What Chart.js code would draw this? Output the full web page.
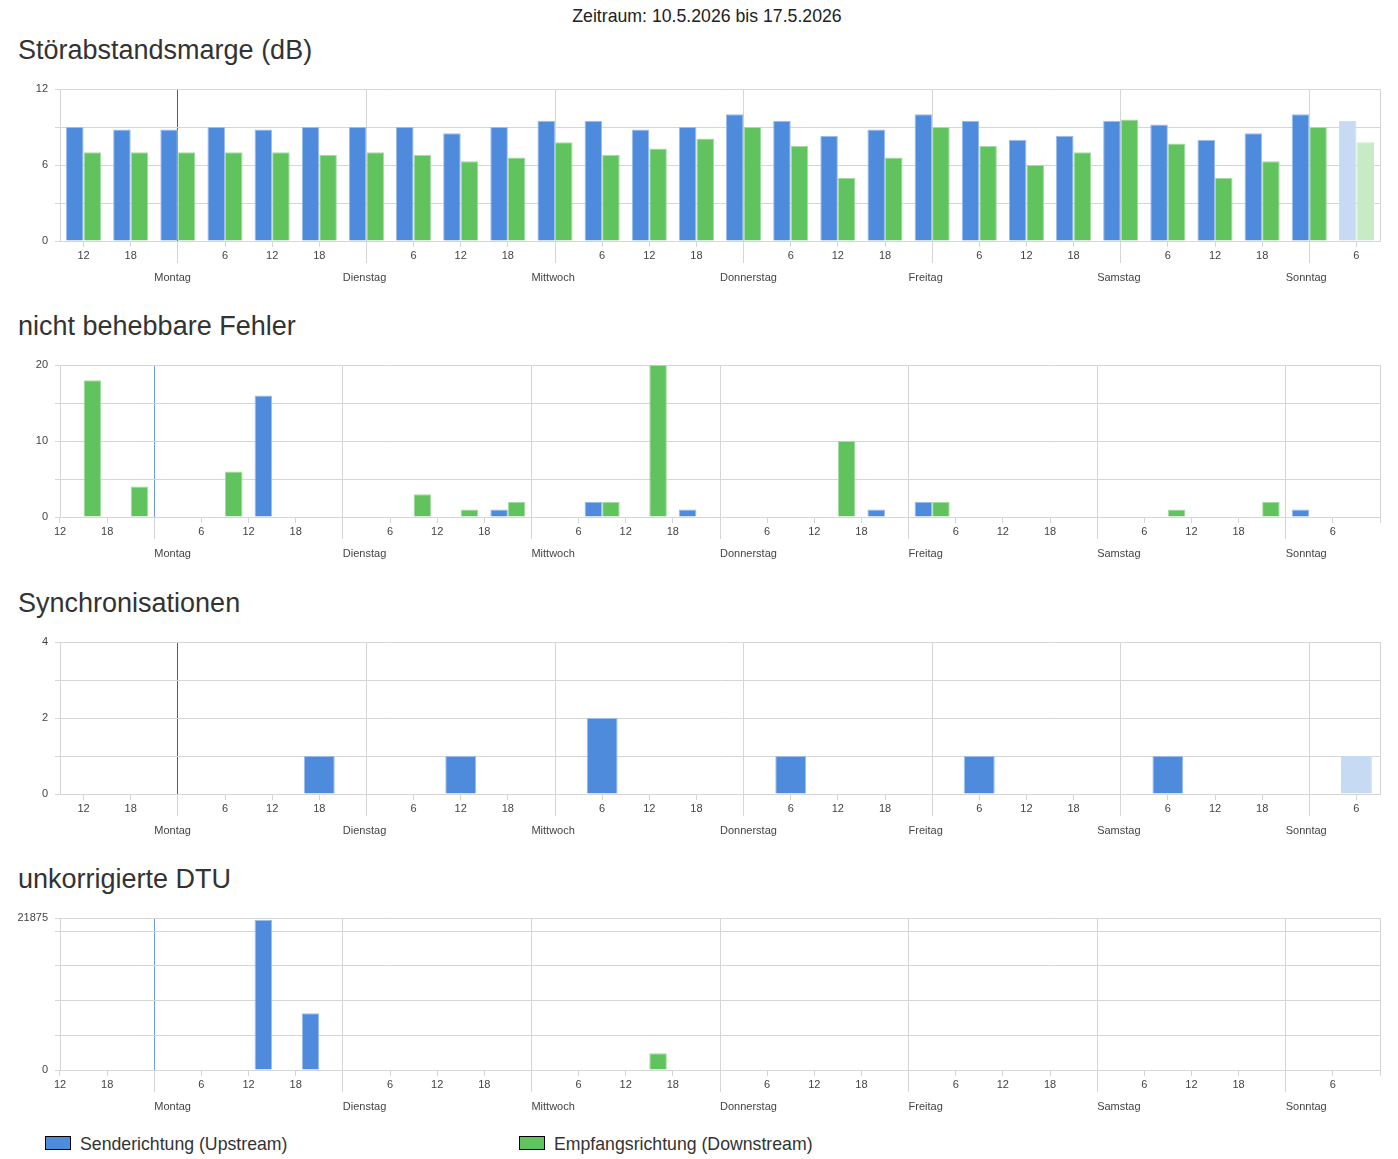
<!DOCTYPE html>
<html>
<head>
<meta charset="utf-8">
<title>DSL-Statistik</title>
<script src="https://cdn.jsdelivr.net/npm/chart.js@4.4.1/dist/chart.umd.min.js"></script>
<style>
  body { margin: 0; background: #fff; font-family: "Liberation Sans", Arial, sans-serif; color: #333; }
  #page { position: relative; width: 1398px; height: 1159px; overflow: hidden; }
  .title { position: absolute; left: 0; top: 6px; width: 1414px; text-align: center; font-size: 17.7px; line-height: 21px; color: #222; }
  h2 { position: absolute; left: 18px; margin: 0; font-size: 27px; line-height: 30px; font-weight: normal; color: #333; }
  canvas { position: absolute; left: 0; }
  .box { position: absolute; top: 1136px; width: 24px; height: 12px; border: 1px solid #000; }
  .ltext { position: absolute; top: 1134px; font-size: 17.7px; line-height: 21px; color: #333; }
</style>
</head>
<body>
<div id="page">
  <div class="title">Zeitraum: 10.5.2026 bis 17.5.2026</div>

  <h2 style="top:35px">Störabstandsmarge (dB)</h2>
  <canvas id="snr" width="1398" height="210" style="top:79px"></canvas>

  <h2 style="top:311px">nicht behebbare Fehler</h2>
  <canvas id="fec" width="1398" height="210" style="top:355px"></canvas>

  <h2 style="top:588px">Synchronisationen</h2>
  <canvas id="sync" width="1398" height="210" style="top:632px"></canvas>

  <h2 style="top:864px">unkorrigierte DTU</h2>
  <canvas id="dtu" width="1398" height="210" style="top:908px"></canvas>

  <div class="box" style="left:45px;background:#4e8bdc"></div>
  <div class="ltext" style="left:80px">Senderichtung (Upstream)</div>
  <div class="box" style="left:519px;background:#61c35e"></div>
  <div class="ltext" style="left:554px">Empfangsrichtung (Downstream)</div>
</div>

<script>
// one slot = 6 hours, 28 slots = one week
const hourLabels = ['12', '18', '', '6', '12', '18', '', '6', '12', '18', '', '6', '12', '18',
                    '', '6', '12', '18', '', '6', '12', '18', '', '6', '12', '18', '', '6'];
const dayLabels = ['', '', 'Montag', '', '', '', 'Dienstag', '', '', '', 'Mittwoch', '', '', '',
                   'Donnerstag', '', '', '', 'Freitag', '', '', '', 'Samstag', '', '', '', 'Sonntag', ''];

// Störabstandsmarge (dB)
const snrUp   = [9.0, 8.8, 8.8, 9.0, 8.8, 9.0, 9.0, 9.0, 8.5, 9.0, 9.5, 9.5, 8.8, 9.0,
                 10.0, 9.5, 8.3, 8.8, 10.0, 9.5, 8.0, 8.3, 9.5, 9.2, 8.0, 8.5, 10.0, 9.5];
const snrDown = [7.0, 7.0, 7.0, 7.0, 7.0, 6.8, 7.0, 6.8, 6.3, 6.6, 7.8, 6.8, 7.3, 8.1,
                 9.0, 7.5, 5.0, 6.6, 9.0, 7.5, 6.0, 7.0, 9.6, 7.7, 5.0, 6.3, 9.0, 7.8];
const snrTicks = [0, 3, 6, 9, 12];
const snrTickLabels = [0, 6, 12];

// nicht behebbare Fehler
const fecUp   = [0, 0, 0, 0, 16, 0, 0, 0, 0, 1, 0, 2, 0, 1,
                 0, 0, 0, 1, 2, 0, 0, 0, 0, 0, 0, 0, 1, 0];
const fecDown = [18, 4, 0, 6, 0, 0, 0, 3, 1, 2, 0, 2, 20, 0,
                 0, 0, 10, 0, 2, 0, 0, 0, 0, 1, 0, 2, 0, 0];
const fecTicks = [0, 5, 10, 15, 20];
const fecTickLabels = [0, 10, 20];

// Synchronisationen
const syncUp = [0, 0, 0, 0, 0, 1, 0, 0, 1, 0, 0, 2, 0, 0,
                0, 1, 0, 0, 0, 1, 0, 0, 0, 1, 0, 0, 0, 1];
const syncTicks = [0, 1, 2, 3, 4];
const syncTickLabels = [0, 2, 4];

// unkorrigierte DTU
const dtuUp   = [0, 0, 0, 0, 21590, 8150, 0, 0, 0, 0, 0, 0, 0, 0,
                 0, 0, 0, 0, 0, 0, 0, 0, 0, 0, 0, 0, 0, 0];
const dtuDown = [0, 0, 0, 0, 0, 0, 0, 0, 0, 0, 0, 0, 2400, 0,
                 0, 0, 0, 0, 0, 0, 0, 0, 0, 0, 0, 0, 0, 0];
const dtuTicks = [0, 5000, 10000, 15000, 20000, 21875];
const dtuTickLabels = [0, 21875];

const BLUE = '#4e8bdc', BLUE_EDGE = '#9cbdec', BLUE_FADED = '#c6daf3';
const GREEN = '#61c35e', GREEN_EDGE = '#a6dca4', GREEN_FADED = '#c6ebc5';
const GRID = '#d6d6d6';
const TEXT = '#444';
const SLOT = 1320 / hourLabels.length;
const firstDay = hourLabels.indexOf('');

Chart.defaults.font.family = '"Liberation Sans", Arial, sans-serif';
Chart.defaults.font.size = 11;

const upstream = { label: 'Senderichtung (Upstream)', color: BLUE, edge: BLUE_EDGE, faded: BLUE_FADED };
const downstream = { label: 'Empfangsrichtung (Downstream)', color: GREEN, edge: GREEN_EDGE, faded: GREEN_FADED };

function isDay(ctx) {
  return ctx.index !== undefined && hourLabels[ctx.index] === '';
}

function drawChart(id, cfg) {
  const last = hourLabels.length - 1;
  const datasets = cfg.series.map(s => ({
    label: s.dir.label,
    data: s.data,
    backgroundColor: ctx => (cfg.fadeLast && ctx.dataIndex === last) ? s.dir.faded : s.dir.color,
    borderColor: ctx => (cfg.fadeLast && ctx.dataIndex === last) ? s.dir.faded : s.dir.edge,
    borderWidth: 1,
    categoryPercentage: cfg.catPct,
    barPercentage: 1
  }));

  new Chart(document.getElementById(id), {
    type: 'bar',
    data: { labels: hourLabels, datasets: datasets },
    options: {
      responsive: false,
      animation: false,
      layout: { padding: { top: 10, right: 18, bottom: 0, left: 0 } },
      plugins: { legend: { display: false }, tooltip: { enabled: false } },
      scales: {
        x: {
          type: 'category',
          offset: true,
          weight: 0,
          grid: {
            offset: !cfg.centered,
            color: ctx => {
              if (ctx.index === undefined) return GRID;
              if (!isDay(ctx)) return 'transparent';
              return ctx.index === firstDay ? cfg.markColor : GRID;
            },
            tickColor: GRID,
            tickLength: 22,
            tickBorderDash: ctx => isDay(ctx) ? [] : [5, 40]
          },
          border: { color: GRID },
          ticks: {
            autoSkip: false,
            maxRotation: 0,
            padding: -14,
            labelOffset: cfg.centered ? 0 : -SLOT / 2,
            color: TEXT
          },
          afterFit: s => { s.height = 24; }
        },
        day: {
          type: 'category',
          labels: dayLabels,
          position: 'bottom',
          offset: true,
          weight: 1,
          grid: { display: false, drawTicks: false },
          border: { display: false },
          ticks: {
            autoSkip: false,
            maxRotation: 0,
            align: 'start',
            labelOffset: -SLOT / 2,
            padding: 6,
            color: TEXT
          },
          afterFit: s => { s.height = 24; }
        },
        y: {
          min: 0,
          max: cfg.yTicks[cfg.yTicks.length - 1],
          afterBuildTicks: s => { s.ticks = cfg.yTicks.map(v => ({ value: v })); },
          grid: { color: GRID, tickColor: GRID, tickLength: 5 },
          border: { color: GRID },
          ticks: {
            padding: 7,
            color: TEXT,
            callback: v => cfg.yLabels.includes(v) ? String(v) : ''
          },
          afterFit: s => { s.width = 60; s.paddingTop = 0; s.paddingBottom = 0; }
        },
        yr: {
          type: 'linear',
          position: 'right',
          grid: { display: false },
          ticks: { display: false },
          border: { color: GRID },
          afterFit: s => { s.width = 0; }
        }
      }
    }
  });
}

drawChart('snr', {
  series: [{ dir: upstream, data: snrUp }, { dir: downstream, data: snrDown }],
  yTicks: snrTicks, yLabels: snrTickLabels,
  centered: true, fadeLast: true, catPct: 0.745, markColor: '#3b5cad'
});

drawChart('fec', {
  series: [{ dir: upstream, data: fecUp }, { dir: downstream, data: fecDown }],
  yTicks: fecTicks, yLabels: fecTickLabels,
  centered: false, fadeLast: false, catPct: 0.745, markColor: '#6f9ce0'
});

drawChart('sync', {
  series: [{ dir: upstream, data: syncUp }],
  yTicks: syncTicks, yLabels: syncTickLabels,
  centered: true, fadeLast: true, catPct: 0.655, markColor: '#3b5cad'
});

drawChart('dtu', {
  series: [{ dir: upstream, data: dtuUp }, { dir: downstream, data: dtuDown }],
  yTicks: dtuTicks, yLabels: dtuTickLabels,
  centered: false, fadeLast: false, catPct: 0.745, markColor: '#6f9ce0'
});
</script>
</body>
</html>
